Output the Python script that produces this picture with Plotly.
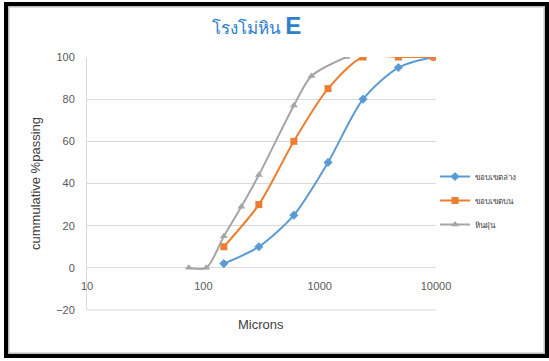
import plotly.graph_objects as go

# Data
sieve_lower = [150, 300, 600, 1180, 2360, 4750, 9500]
lower_pass = [2, 10, 25, 50, 80, 95, 100]

sieve_upper = [150, 300, 600, 1180, 2360, 4750, 9500]
upper_pass = [10, 30, 60, 85, 100, 100, 100]

sieve_dust = [75, 106, 150, 212, 300, 600, 850, 1700]
dust_pass = [0, 0, 15, 29, 44, 77, 91, 100]

series_names = ["ขอบเขตล่าง", "ขอบเขตบน", "หินฝุ่น"]
x_tickvals = [10, 100, 1000, 10000]
x_ticktext = ["10", "100", "1000", "10000"]
y_tickvals = [-20, 0, 20, 40, 60, 80, 100]

W, H = 549, 361
ML, MR, MT, MB = 87, 113, 57, 51
PW, PH = W - ML - MR, H - MT - MB

def px(x):
    return (x - ML) / PW

def py(y):
    return (H - MB - y) / PH

FONT = "Liberation Sans, Arial, sans-serif"

fig = go.Figure()
fig.add_trace(go.Scatter(
    x=sieve_lower, y=lower_pass, name=series_names[0], mode="lines+markers",
    legendgroup="a",
    line=dict(color="#5B9BD5", width=2, shape="spline", smoothing=0.8),
    marker=dict(symbol="diamond", size=7, color="#5B9BD5")))
fig.add_trace(go.Scatter(
    x=sieve_upper, y=upper_pass, name=series_names[1], mode="lines+markers",
    legendgroup="b",
    line=dict(color="#ED7D31", width=2, shape="spline", smoothing=0.8),
    marker=dict(symbol="square", size=7, color="#ED7D31")))
fig.add_trace(go.Scatter(
    x=sieve_dust, y=dust_pass, name=series_names[2], mode="lines+markers",
    legendgroup="c",
    line=dict(color="#A5A5A5", width=2, shape="spline", smoothing=0.8),
    marker=dict(symbol="triangle-up", size=7, color="#A5A5A5")))

tick_font = dict(family=FONT, size=11, color="#595959")

shapes = [
    dict(type="line", xref="paper", yref="paper", x0=0, x1=1, y0=0, y1=0,
         line=dict(color="#D9D9D9", width=1), layer="below"),
]

annotations = [
    dict(text="Microns", xref="paper", yref="paper", x=px(261), y=py(324),
         xanchor="center", yanchor="middle", showarrow=False,
         font=dict(family=FONT, size=13, color="#404040")),
]

fig.update_layout(
    width=W, height=H,
    margin=dict(l=ML, r=MR, t=MT, b=MB, autoexpand=False),
    paper_bgcolor="white", plot_bgcolor="white",
    title=dict(
        text="โรงโม่หิน <b><span style='font-size:24px'>E</span></b>",
        x=px(250), xanchor="center", y=1 - 28 / H, yanchor="middle",
        font=dict(family=FONT, size=17, color="#2E80CC")),
    xaxis=dict(
        type="log", range=[1, 4], tickvals=x_tickvals, ticktext=x_ticktext,
        showgrid=False, showline=False, zeroline=False, ticks="",
        anchor="free", position=1 / 6, tickfont=tick_font, automargin=False,
        ticklabelstandoff=10),
    yaxis=dict(
        range=[-20, 100], tickvals=y_tickvals, showgrid=True, gridcolor="#D9D9D9",
        gridwidth=1, zeroline=False, showline=True, linecolor="#D9D9D9", linewidth=1,
        ticks="", tickfont=tick_font, ticklabelstandoff=9, automargin=False,
        title=dict(text="cummulative %passing",
                   font=dict(family=FONT, size=13, color="#404040"),
                   standoff=12)),
    legend=dict(x=px(435), y=py(162), xanchor="left", yanchor="top",
                font=dict(family=FONT, size=8, color="#404040"),
                tracegroupgap=5, itemwidth=30, bgcolor="rgba(0,0,0,0)"),
    shapes=shapes,
    annotations=annotations,
)

frame_js = (
    "document.body.style.margin='0';document.body.style.overflow='hidden';"
    "var f=document.createElement('div');"
    "f.style.cssText='position:fixed;left:3.5px;top:2px;width:545px;height:356px;"
    "box-sizing:border-box;border:4.5px solid #000;"
    "box-shadow:inset 0 0 0 1.5px #bdbdbd;pointer-events:none;z-index:1000;';"
    "document.body.appendChild(f);"
)

fig.write_html("out.html", config={"displayModeBar": False}, post_script=frame_js)
